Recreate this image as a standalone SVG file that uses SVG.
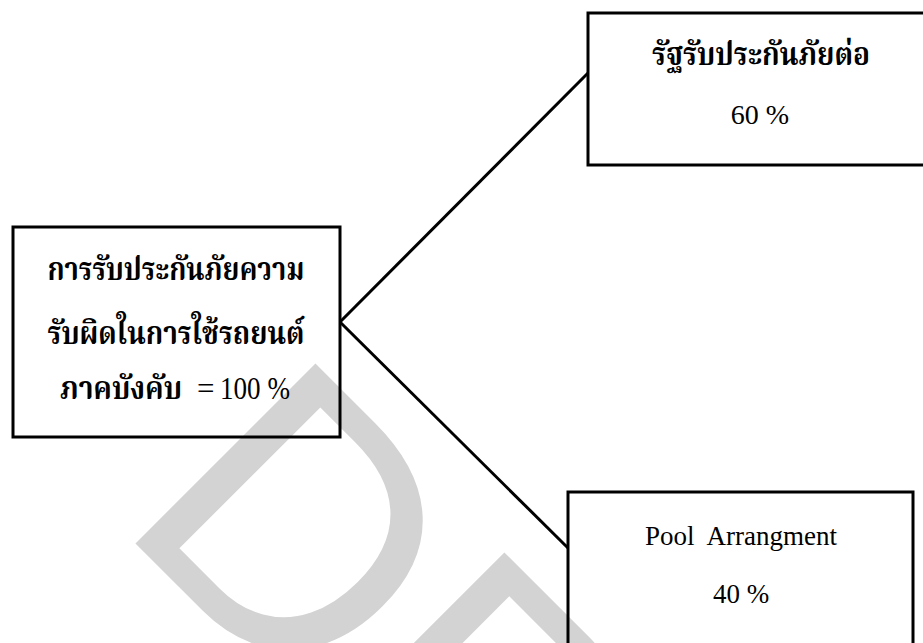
<svg xmlns="http://www.w3.org/2000/svg" width="923" height="643" viewBox="0 0 923 643">
<style>
.box{fill:none;stroke:#000;stroke-width:3}
.conn{fill:none;stroke:#000;stroke-width:3}
.th{font-family:"Liberation Serif","Noto Serif Thai","Noto Sans Thai","Noto Sans",serif;fill:#000;font-weight:bold;text-anchor:middle;white-space:pre}
.en{font-family:"Liberation Serif",serif;fill:#000;text-anchor:middle;white-space:pre}
.mix{font-family:"Liberation Serif","Noto Serif Thai","Noto Sans Thai","Noto Sans",serif;fill:#000;white-space:pre}
.wm{font-family:"Liberation Sans",Arial,sans-serif;fill:#d3d3d3}
</style>
<rect width="923" height="643" fill="#fff"/>
<text class="wm" font-size="370" transform="translate(114,522) rotate(45)">DRAFT</text>
<g id="connectors">
<line class="conn" x1="340" y1="322" x2="588" y2="73"/>
<line class="conn" x1="340" y1="322" x2="568" y2="548"/>
</g>
<g id="node-main">
<rect class="box" x="13" y="227" width="327" height="210"/>
<text class="th" x="176" y="280" font-size="32" textLength="257" lengthAdjust="spacingAndGlyphs">การรับประกันภัยความ</text>
<text class="th" x="176" y="344" font-size="32" textLength="257" lengthAdjust="spacingAndGlyphs">รับผิดในการใช้รถยนต์</text>
<text class="mix" y="399" font-size="31"><tspan x="60" font-size="32" font-weight="bold" textLength="122" lengthAdjust="spacingAndGlyphs">ภาคบังคับ</tspan><tspan x="197">=</tspan><tspan x="220" textLength="70" lengthAdjust="spacingAndGlyphs">100 %</tspan></text>
</g>
<g id="node-state">
<rect class="box" x="588" y="13" width="350" height="152"/>
<text class="th" x="761" y="65" font-size="32" textLength="218" lengthAdjust="spacingAndGlyphs">รัฐรับประกันภัยต่อ</text>
<text class="en" x="760" y="124" font-size="28">60 %</text>
</g>
<g id="node-pool">
<rect class="box" x="568" y="492" width="345" height="200"/>
<text class="en" x="741" y="545" font-size="27">Pool  Arrangment</text>
<text class="en" x="741" y="603" font-size="27">40 %</text>
</g>
</svg>
